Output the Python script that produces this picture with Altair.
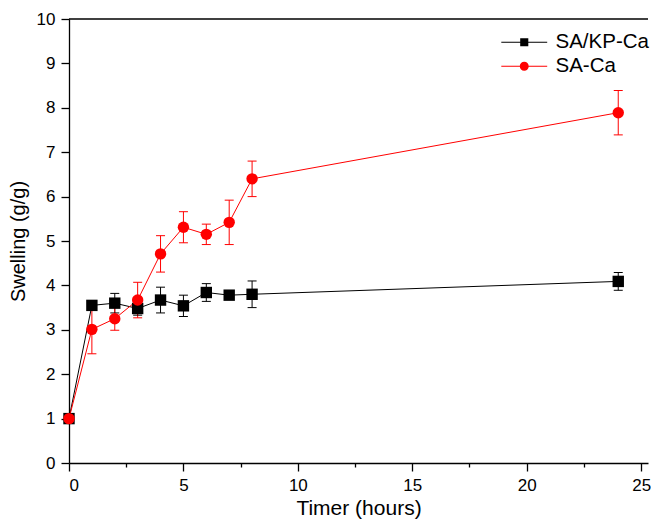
import altair as alt
import pandas as pd

# ---- data ----
series_names = ["SA/KP-Ca", "SA-Ca"]
series_colors = ["#000000", "#ff0000"]
series_shapes = ["square", "circle"]
time_h = [0, 1, 2, 3, 4, 5, 6, 7, 8, 24]
kp_vals = [1.00, 3.55, 3.60, 3.48, 3.67, 3.54, 3.84, 3.78, 3.80, 4.09]
kp_errs = [0.05, 0.08, 0.22, 0.15, 0.29, 0.24, 0.20, 0.07, 0.30, 0.20]
sa_vals = [1.00, 3.01, 3.25, 3.67, 4.71, 5.31, 5.15, 5.42, 6.40, 7.89]
sa_errs = [0.05, 0.55, 0.26, 0.40, 0.41, 0.35, 0.23, 0.50, 0.40, 0.50]
x_ticks = [0, 2.5, 5, 7.5, 10, 12.5, 15, 17.5, 20, 22.5, 25]
y_ticks = [i * 0.5 for i in range(21)]
top_frame = [10]

rows = []
for name, vals, errs in [(series_names[0], kp_vals, kp_errs), (series_names[1], sa_vals, sa_errs)]:
    for t, v, e in zip(time_h, vals, errs):
        rows.append({"series": name, "t": t, "v": v, "lo": v - e, "hi": v + e})
df = pd.DataFrame(rows)

FONT = "Liberation Sans"
XDOM = [0, 25.3]
YDOM = [0, 10]

color_scale = alt.Scale(domain=series_names, range=series_colors)

# legend glyphs: a thin bar (the line) with the marker in the middle (fill only)
sq_path = "M-5.1,-0.11H5.1V0.11H-5.1ZM-0.9,-0.9H0.9V0.9H-0.9Z"
ci_path = "M-5.1,-0.11H5.1V0.11H-5.1ZM-1,0A1,1,0,1,1,1,0A1,1,0,1,1,-1,0Z"
legend_shape_scale = alt.Scale(domain=series_names, range=[sq_path, ci_path])

x_axis = alt.Axis(
    values=x_ticks, format=".0f",
    labelExpr="datum.value % 5 === 0 ? datum.label : ''",
    tickSize={"condition": {"test": "datum.value % 5 === 0", "value": 8}, "value": 4},
    grid=False, title="Timer (hours)", titlePadding=4,
    titleFontSize=21, titleFontWeight=400,
)
y_axis = alt.Axis(
    values=y_ticks, format=".0f",
    labelExpr="datum.value % 1 === 0 ? datum.label : ''",
    tickSize={"condition": {"test": "datum.value % 1 === 0", "value": 8}, "value": 4},
    grid=False, title="Swelling (g/g)", titlePadding=8,
    titleFontSize=20, titleFontWeight=400,
)

X = alt.X("t:Q", scale=alt.Scale(domain=XDOM, nice=False, zero=False), axis=x_axis)
Y = alt.Y("v:Q", scale=alt.Scale(domain=YDOM, nice=False), axis=y_axis)

base = alt.Chart(df)
no_leg_color = alt.Color("series:N", scale=color_scale, legend=None)

legend = alt.Legend(
    title=None, orient="none", legendX=445, legendY=13, padding=0,
    labelFont=FONT, labelFontSize=20.5, labelColor="black", labelOffset=21,
    symbolSize=81, symbolOpacity=1, symbolStrokeWidth=0, rowPadding=3,
)
# invisible layer that only supplies the legend (line + marker glyphs); first so its legend settings win
legend_layer = base.mark_point(filled=True, opacity=0).encode(
    x=X, y=Y,
    color=alt.Color("series:N", scale=color_scale, legend=legend),
    shape=alt.Shape("series:N", scale=legend_shape_scale, legend=legend),
)

lines = base.mark_line(strokeWidth=1).encode(x=X, y=Y, color=no_leg_color, detail="series:N")

rules = base.mark_rule(strokeWidth=1).encode(x="t:Q", y="lo:Q", y2="hi:Q", color=no_leg_color)
cap_lo = base.mark_tick(orient="horizontal", size=9, thickness=1, opacity=1).encode(
    x="t:Q", y="lo:Q", color=no_leg_color)
cap_hi = base.mark_tick(orient="horizontal", size=9, thickness=1, opacity=1).encode(
    x="t:Q", y="hi:Q", color=no_leg_color)

point_layers = []
for name, shp in zip(series_names, series_shapes):
    point_layers.append(
        base.transform_filter(alt.datum.series == name)
        .mark_point(filled=True, opacity=1, size=130, shape=shp)
        .encode(x="t:Q", y="v:Q", color=no_leg_color)
    )

top = alt.Chart(pd.DataFrame({"yt": top_frame})).mark_rule(color="black", strokeWidth=1.3).encode(
    y=alt.Y("yt:Q")
)

chart = alt.layer(legend_layer, lines, rules, cap_lo, cap_hi, *point_layers, top).properties(
    width=579, height=444,
    padding={"left": 61, "top": 11, "right": 3, "bottom": 56},
    autosize="none",
).configure_view(stroke=None).configure_axis(
    domainColor="black", domainWidth=1.3, tickColor="black", tickWidth=1.3,
    labelColor="black", labelFont=FONT, labelFontSize=17, labelPadding=6,
    titleColor="black", titleFont=FONT, titleFontWeight=400,
)

chart.save("out.html", embed_options={"renderer": "svg", "actions": False})
